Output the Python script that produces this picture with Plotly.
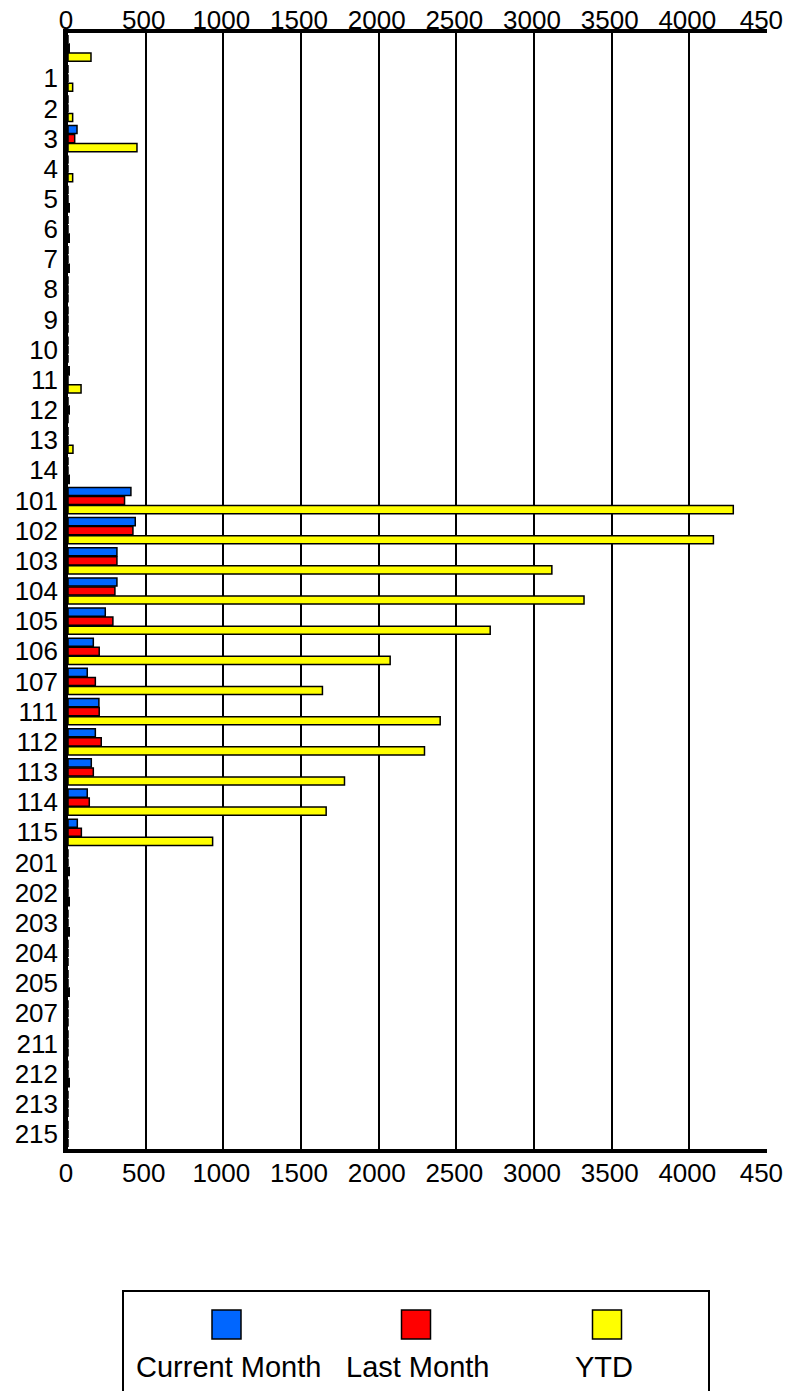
import plotly.graph_objects as go

# Categories from top to bottom (first one is an unnamed group)
categories = [" ", "1", "2", "3", "4", "5", "6", "7", "8", "9", "10", "11", "12", "13", "14",
              "101", "102", "103", "104", "105", "106", "107",
              "111", "112", "113", "114", "115",
              "201", "202", "203", "204", "205", "207", "211", "212", "213", "215"]

current_month = [0, 0, 0, 58, 0, 0, 0, 0, 0, 0, 0, 8, 0, 0, 0,
                 405, 433, 315, 315, 240, 163, 124,
                 199, 176, 150, 124, 60,
                 0, 0, 0, 0, 0, 0, 0, 0, 0, 0]

last_month = [8, 0, 0, 43, 0, 0, 0, 0, 0, 0, 0, 0, 8, 0, 0,
              364, 418, 315, 302, 289, 201, 176,
              201, 214, 163, 137, 86,
              0, 0, 0, 0, 0, 0, 0, 0, 0, 0]

ytd = [148, 30, 30, 444, 30, 8, 8, 8, 0, 0, 0, 84, 0, 32, 8,
       4283, 4155, 3115, 3322, 2718, 2074, 1638,
       2396, 2295, 1780, 1662, 931,
       8, 8, 8, 0, 8, 0, 0, 8, 0, 0]

series_names = ["Current Month", "Last Month", "YTD"]
series_colors = ["#0066FF", "#FF0000", "#FFFF00"]

tick_vals = [0, 500, 1000, 1500, 2000, 2500, 3000, 3500, 4000, 4500]
tick_text = ["0", "500", "1000", "1500", "2000", "2500", "3000", "3500", "4000",
             "450\u00a0"]

FONT = "Liberation Sans, Arial, sans-serif"

fig = go.Figure()
for name, vals, color in zip(series_names, [current_month, last_month, ytd], series_colors):
    fig.add_trace(go.Bar(
        y=categories, x=vals, name=name, orientation="h",
        marker=dict(color=color, line=dict(color="black", width=1.5)),
    ))

# Invisible companion trace so the top value axis gets drawn
fig.add_trace(go.Scatter(
    y=categories, x=ytd, xaxis="x2", mode="markers",
    marker=dict(opacity=0), hoverinfo="skip", showlegend=False,
))

axis_common = dict(
    range=[0, 4500], tickmode="array", tickvals=tick_vals, ticktext=tick_text,
    zeroline=False, ticks="", showline=True, linecolor="black", linewidth=3.5,
    ticklabeloverflow="allow", ticklabelshift=-2,
    tickfont=dict(family=FONT, size=26, color="black"),
)

n_cat = len(categories)

fig.update_layout(
    width=793, height=1391,
    margin=dict(l=68, r=26, t=33, b=242, autoexpand=False),
    barmode="group", bargap=0.1, bargroupgap=0.1,
    plot_bgcolor="white", paper_bgcolor="white",
    showlegend=False,
    font=dict(family=FONT, size=26, color="black"),
    xaxis=dict(side="bottom", showgrid=True, gridcolor="black", gridwidth=2,
               ticklabelstandoff=-2, **axis_common),
    xaxis2=dict(side="top", overlaying="x", showgrid=False, ticklabelstandoff=-10,
                **axis_common),
    yaxis=dict(type="category", categoryorder="array", categoryarray=categories,
               tickmode="array", tickvals=categories, ticktext=categories,
               range=[n_cat - 0.5, -0.5], showline=True, linecolor="black", linewidth=4.5,
               showgrid=False, ticks="", ticklabelstandoff=0,
               tickfont=dict(family=FONT, size=26, color="black")),
)

# Legend panel below the chart: swatch on top, series name underneath
px_w, px_h = 699.0, 1116.0


def px_x(v):
    return (v - 68.0) / px_w


def px_y(v):
    return (1149.0 - v) / px_h


fig.add_shape(type="rect", xref="paper", yref="paper",
              x0=px_x(123), x1=px_x(709), y0=px_y(1420), y1=px_y(1291),
              line=dict(color="black", width=2), fillcolor="rgba(0,0,0,0)")

swatch_centers = [226.5, 416, 607]
label_centers = [228.5, 417, 604]
for name, color, cx, tx in zip(series_names, series_colors, swatch_centers, label_centers):
    fig.add_shape(type="rect", xref="paper", yref="paper",
                  x0=px_x(cx - 14.5), x1=px_x(cx + 14.5),
                  y0=px_y(1339), y1=px_y(1310),
                  line=dict(color="black", width=1.5), fillcolor=color)
    fig.add_annotation(text=name, xref="paper", yref="paper",
                       x=px_x(tx), y=px_y(1367), showarrow=False,
                       xanchor="center", yanchor="middle",
                       font=dict(family=FONT, size=29, color="black"))

fig.write_html("out.html")
